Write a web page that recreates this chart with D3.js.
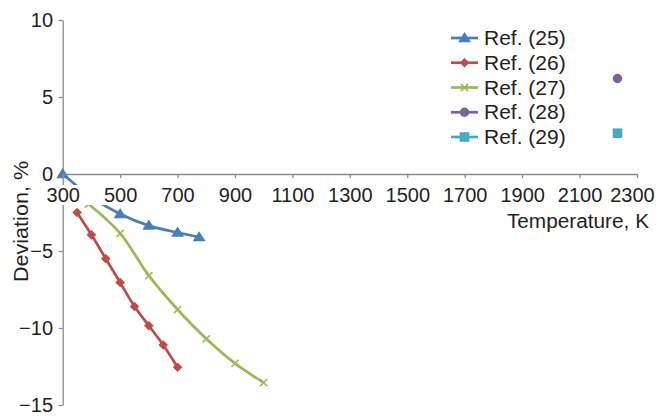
<!DOCTYPE html>
<html><head><meta charset="utf-8">
<script src="https://cdn.jsdelivr.net/npm/d3@7"></script>
<style>body{margin:0;background:#fff}svg{display:block}</style>
</head><body>
<svg id="c" width="659" height="418"></svg>
<script>
const xTicks = [300,500,700,900,1100,1300,1500,1700,1900,2100,2300];
const yTicks = [-15,-10,-5,0,5,10];
const ref25T = [300,400,500,600,700,775];
const ref25D = [0,-1.5,-2.6,-3.35,-3.8,-4.1];
const ref26T = [350,400,450,500,550,600,650,700];
const ref26D = [-2.5,-3.95,-5.5,-7.05,-8.6,-9.85,-11.1,-12.55];
const ref27T = [390,500,600,700,800,900,1000];
const ref27D = [-1.95,-3.85,-6.6,-8.8,-10.7,-12.3,-13.55];
const ref28T = [2232];
const ref28D = [6.2];
const ref29T = [2232];
const ref29D = [2.65];
const seriesNames = ["Ref. (25)","Ref. (26)","Ref. (27)","Ref. (28)","Ref. (29)"];

const colors = ["#4a7ebb","#be4b48","#98b954","#7d60a0","#46aac5"];
const markers = ["tri","dia","x","circ","sq"];
const series = [
  {T:ref25T,D:ref25D},{T:ref26T,D:ref26D},{T:ref27T,D:ref27D},{T:ref28T,D:ref28D},{T:ref29T,D:ref29D}
].map((s,i)=>({name:seriesNames[i],color:colors[i],marker:markers[i],pts:s.T.map((t,j)=>[t,s.D[j]])}));

const FS = 20, FONT = "'Liberation Sans', Arial, sans-serif", TXT="#231f20", AX="#8a8a8a";
const svg = d3.select("#c");
const x = d3.scaleLinear().domain([300,2300]).range([62.7,637]);
const y = d3.scaleLinear().domain([-15,10]).range([405,20]);

function markerPath(m){
  switch(m){
    case "tri": return "M0,-6L6.5,4.2L-6.5,4.2Z";
    case "dia": return "M0,-4.8L4.8,0L0,4.8L-4.8,0Z";
    case "x": return "M-3.6,-3.6L3.6,3.6M-3.6,3.6L3.6,-3.6";
    case "circ": return d3.symbol(d3.symbolCircle, 70)();
    case "sq": return "M-4.8,-4.8H4.8V4.8H-4.8Z";
  }
}
function drawMarker(g, m, color, cx, cy){
  const p = g.append("path").attr("d", markerPath(m)).attr("transform",`translate(${cx},${cy})`);
  if(m==="x") p.attr("fill","none").attr("stroke",color).attr("stroke-width",1.5);
  else p.attr("fill",color);
}

// axes
const gx = svg.append("g").attr("transform",`translate(0,${y(0)})`)
  .call(d3.axisBottom(x).tickValues(xTicks).tickSize(4).tickSizeOuter(0).tickPadding(10).tickFormat(d3.format("d")));
const gy = svg.append("g").attr("transform",`translate(${x(300)},0)`)
  .call(d3.axisLeft(y).tickValues(yTicks).tickSize(4).tickSizeOuter(0).tickPadding(5.7).tickFormat(d=>d<0?"\u2212"+Math.abs(d):String(d)));
[gx,gy].forEach(g=>{
  g.select(".domain").attr("stroke",AX).attr("stroke-width",1.3);
  g.selectAll(".tick line").attr("stroke",AX).attr("stroke-width",1.3);
});

// data lines
const line = d3.line().x(d=>x(d[0])).y(d=>y(d[1])).curve(d3.curveCatmullRom.alpha(0.5));
const gd = svg.append("g");
series.forEach(s=>{
  if(s.pts.length>1) gd.append("path").attr("d",line(s.pts)).attr("fill","none")
    .attr("stroke",s.color).attr("stroke-width",2.7);
  s.pts.forEach(p=>drawMarker(gd,s.marker,s.color,x(p[0]),y(p[1])));
});

// white band behind the x tick labels
svg.append("rect").attr("x",40).attr("y",185).attr("width",619).attr("height",20).attr("fill","#fff");
gx.raise();

gx.selectAll(".tick text").attr("font-size",FS).attr("font-family",FONT).attr("fill",TXT)
  .attr("dx",d=>d===2300?-5:0);
gy.selectAll(".tick text").attr("font-size",FS).attr("font-family",FONT).attr("fill",TXT);

// axis titles
svg.append("text").attr("transform",`translate(649,228) scale(1.04,1)`).attr("text-anchor","end")
  .attr("font-size",FS).attr("font-family",FONT).attr("fill",TXT).text("Temperature, K");
svg.append("text").attr("transform",`translate(28,221.5) rotate(-90) scale(1.08,1)`).attr("text-anchor","middle")
  .attr("font-size",FS).attr("font-family",FONT).attr("fill",TXT).text("Deviation, %");

// legend
const lg = svg.append("g");
series.forEach((s,i)=>{
  const cy = 38 + i*24.75;
  lg.append("line").attr("x1",451).attr("x2",478).attr("y1",cy).attr("y2",cy).attr("stroke",s.color).attr("stroke-width",2.7);
  drawMarker(lg,s.marker,s.color,464.5,cy);
  lg.append("text").attr("transform",`translate(484,${cy+7}) scale(1.05,1)`)
    .attr("font-size",FS).attr("font-family",FONT).attr("fill",TXT).text(s.name);
});
</script>
</body></html>
